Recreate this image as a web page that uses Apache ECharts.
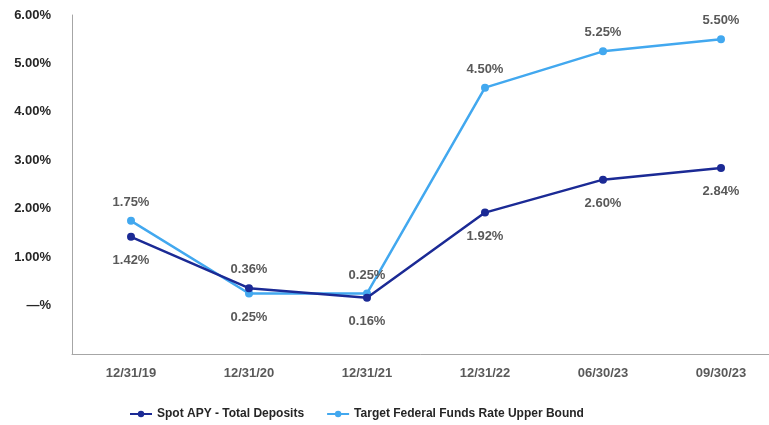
<!DOCTYPE html>
<html>
<head>
<meta charset="utf-8">
<script src="https://cdn.jsdelivr.net/npm/echarts@6/dist/echarts.min.js"></script>
<style>html,body{margin:0;padding:0;background:#fff;}#c{width:769px;height:425px;}</style>
</head>
<body>
<div id="c"></div>
<script>
const categories = ['12/31/19','12/31/20','12/31/21','12/31/22','06/30/23','09/30/23'];
const spotApy = [1.42, 0.36, 0.16, 1.92, 2.60, 2.84];
const fedRate = [1.75, 0.25, 0.25, 4.50, 5.25, 5.50];
const spotLabelPos = ['bottom','top','bottom','bottom','bottom','bottom'];
const fedLabelPos = ['top','bottom','top','top','top','top'];
const seriesNames = ['Spot APY - Total Deposits','Target Federal Funds Rate Upper Bound'];

const labelStyle = {show:true, color:'#595959', fontWeight:'bold', fontSize:13, fontFamily:'Liberation Sans, Arial, sans-serif',
  formatter: p => p.value.toFixed(2) + '%'};

function mk(vals, pos) {
  return vals.map((v,i) => ({value:v, label:{position:pos[i], distance: pos[i] === 'top' ? 8 : 13}}));
}

const chart = echarts.init(document.getElementById('c'), null, {renderer:'canvas'});
chart.setOption({
  animation:false,
  textStyle:{fontFamily:'Liberation Sans, Arial, sans-serif'},
  grid:{left:72, top:15, width:708, height:339, outerBoundsMode:'none', containLabel:false},
  legend:{
    top:403, left:124, itemGap:22, itemWidth:22, itemHeight:8,
    textStyle:{color:'#262626', fontWeight:'bold', fontSize:12},
    data:seriesNames
  },
  xAxis:{
    type:'category', data:categories, boundaryGap:true,
    axisLine:{onZero:false, lineStyle:{color:'#a6a6a6', width:1}},
    axisTick:{alignWithLabel:true, length:5, lineStyle:{color:'#a6a6a6'}},
    axisLabel:{color:'#595959', fontWeight:'bold', fontSize:13, margin:13}
  },
  yAxis:{
    type:'value', min:-1, max:6, interval:1,
    splitLine:{show:false},
    axisLine:{show:true, lineStyle:{color:'#a6a6a6', width:1}},
    axisTick:{show:false},
    axisLabel:{color:'#262626', fontWeight:'bold', fontSize:13, margin:21,
      formatter: v => v === -1 ? '' : (v === 0 ? '\u2014%' : v.toFixed(2) + '%')}
  },
  series:[
    {name:seriesNames[0], type:'line', data:mk(spotApy, spotLabelPos),
     color:'#1b2a95', symbol:'circle', symbolSize:8, lineStyle:{width:2.5},
     label:labelStyle, z:3},
    {name:seriesNames[1], type:'line', data:mk(fedRate, fedLabelPos),
     color:'#42a8ef', symbol:'circle', symbolSize:8, lineStyle:{width:2.5},
     label:labelStyle, z:2}
  ]
});
</script>
</body>
</html>
